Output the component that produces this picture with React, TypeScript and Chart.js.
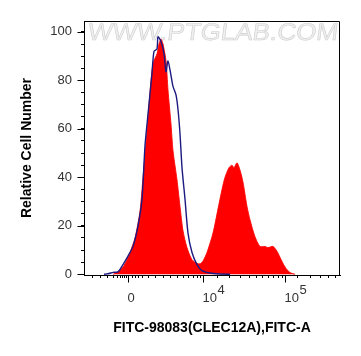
import React, { useEffect, useRef } from 'react';
import { Chart, registerables } from 'chart.js';

Chart.register(...registerables);

// Display channel units (0..1024) of the biexponential FITC-A axis
const controlX = [80, 100, 116, 136, 156, 176, 196, 216, 232, 244, 256, 272, 280, 292, 296, 308, 320, 328, 336, 348, 356, 368, 376, 384, 392, 404, 416, 432, 452, 472, 504, 544, 584];
const controlY = [0, 0.3, 0.8, 1, 4, 7.5, 11.5, 20, 31, 53, 66, 83, 92, 93, 98, 96, 91, 83.5, 88, 82, 77.5, 74, 68, 58, 44, 31, 17, 9, 4, 1.5, 0.5, 0.1, 0];

const sampleX = [116, 136, 156, 172, 184, 204, 224, 236, 252, 264, 276, 292, 300, 308, 316, 328, 336, 348, 356, 372, 384, 396, 412, 432, 452, 464, 476, 492, 516, 536, 552, 564, 580, 592, 600, 612, 624, 636, 652, 664, 684, 704, 724, 736, 756, 772, 784, 804, 824, 844];
const sampleY = [0, 1, 3, 6, 9, 15, 26, 40, 59, 75, 87, 91, 95, 97, 95, 88, 76, 62, 51, 39, 28, 18, 11, 6, 4.5, 4.3, 5.5, 9, 17, 27, 35, 40, 44, 45, 44, 46, 43, 38, 28, 22.5, 15.5, 11.5, 11.5, 11, 11.5, 9.5, 7, 3, 0.7, 0];

const yMajorTicks = [0, 20, 40, 60, 80, 100];
const yMinorTicks = [5, 10, 15, 25, 30, 35, 45, 50, 55, 65, 70, 75, 85, 90, 95];

const xMajorTicks = [176, 476, 804];
const xMajorBase = ['0', '10', '10'];
const xMajorSup = ['', '4', '5'];
const xMinorTicks = [32, 64, 92, 116, 132, 144, 152, 160, 168, 192, 204, 216, 232, 256, 284, 316, 344, 372, 396, 416, 436, 452, 464, 532, 580, 624, 660, 688, 712, 736, 756, 776, 792, 852, 904, 944, 976, 1004];

const xTitle = 'FITC-98083(CLEC12A),FITC-A';
const yTitle = 'Relative Cell Number';
const watermark = 'WWW.PTGLAB.COM';

const FONT = "Arial, 'Liberation Sans', sans-serif";

const customPlugin = {
  id: 'flowAxes',
  beforeDatasetsDraw(chart: any) {
    const { ctx, chartArea } = chart;
    ctx.save();
    ctx.font = `24px ${FONT}`;
    const w = ctx.measureText(watermark).width;
    const target = 250;
    ctx.translate(chartArea.left + 4, chartArea.top + 12);
    ctx.scale(target / w, 1);
    ctx.transform(1, 0, -0.12, 1, 0, 0);
    ctx.textBaseline = 'middle';
    ctx.textAlign = 'left';
    ctx.fillStyle = '#f0f0f0';
    ctx.fillText(watermark, 0, 0);
    ctx.strokeStyle = '#cfcfcf';
    ctx.lineWidth = 0.6;
    ctx.strokeText(watermark, 0, 0);
    ctx.restore();
  },
  afterDraw(chart: any) {
    const { ctx, chartArea } = chart;
    const xs = chart.scales.x;
    const ys = chart.scales.y;
    const L = Math.round(chartArea.left) + 0.5;
    const R = Math.round(chartArea.right) - 0.5;
    const T = Math.round(chartArea.top) + 0.5;
    const B = Math.round(chartArea.bottom) + 0.5;
    ctx.save();
    ctx.strokeStyle = '#000';
    ctx.lineWidth = 1;
    ctx.beginPath();
    ctx.moveTo(L, T);
    ctx.lineTo(R, T);
    ctx.lineTo(R, B);
    for (const v of yMajorTicks) {
      const y = Math.round(ys.getPixelForValue(v)) + 0.5;
      ctx.moveTo(L - 7, y);
      ctx.lineTo(L, y);
    }
    for (const v of xMajorTicks) {
      const x = Math.round(xs.getPixelForValue(v)) + 0.5;
      ctx.moveTo(x, B);
      ctx.lineTo(x, B + 7);
    }
    ctx.stroke();

    ctx.font = `13px ${FONT}`;
    ctx.fillStyle = '#333';
    ctx.textBaseline = 'middle';
    ctx.textAlign = 'left';
    xMajorTicks.forEach((v, i) => {
      const x = xs.getPixelForValue(v);
      const base = xMajorBase[i];
      const sup = xMajorSup[i];
      const bx = sup ? x - 0.5 : x - ctx.measureText(base).width / 2 + 3;
      ctx.fillText(base, bx, chartArea.bottom + 23);
      if (sup) {
        ctx.fillText(sup, bx + ctx.measureText(base).width + 0.5, chartArea.bottom + 15);
      }
    });
    ctx.restore();
  },
};

export default function App() {
  const ref = useRef<HTMLCanvasElement | null>(null);
  useEffect(() => {
    if (!ref.current) return;
    const chart = new Chart(ref.current, {
      type: 'line',
      data: {
        datasets: [
          {
            label: 'Control',
            data: controlX.map((x, i) => ({ x, y: controlY[i] })),
            borderColor: '#1c1a80',
            borderWidth: 1.4,
            backgroundColor: 'transparent',
            fill: false,
            pointRadius: 0,
            tension: 0.25,
          },
          {
            label: 'CLEC12A',
            data: sampleX.map((x, i) => ({ x, y: sampleY[i] })),
            borderColor: 'rgba(255,0,0,0.85)',
            borderWidth: 1,
            backgroundColor: 'rgb(255,0,0)',
            fill: 'origin',
            pointRadius: 0,
            tension: 0.25,
          },
        ],
      },
      options: {
        animation: false,
        responsive: false,
        devicePixelRatio: 1,
        layout: { padding: { left: 0, right: 21, top: 21, bottom: 0 } },
        plugins: { legend: { display: false }, tooltip: { enabled: false } },
        scales: {
          x: {
            type: 'linear',
            min: 0,
            max: 1024,
            afterBuildTicks: (scale: any) => {
              scale.ticks = [...xMinorTicks, ...xMajorTicks].sort((a, b) => a - b).map((v) => ({ value: v }));
            },
            afterFit: (scale: any) => {
              scale.height = 81;
            },
            ticks: { display: false },
            grid: { drawOnChartArea: false, tickLength: 3, tickColor: '#000', tickWidth: 1 },
            border: { display: true, color: '#000', width: 1 },
            title: {
              display: true,
              text: xTitle,
              color: '#000',
              font: { family: FONT, size: 14, weight: 'bold' },
              padding: { top: 0, bottom: 19.6 },
            },
          },
          y: {
            type: 'linear',
            min: -0.3,
            max: 104.5,
            afterBuildTicks: (scale: any) => {
              scale.ticks = [...yMajorTicks, ...yMinorTicks].sort((a, b) => a - b).map((v) => ({ value: v }));
            },
            afterFit: (scale: any) => {
              scale.width = 84;
            },
            ticks: {
              autoSkip: false,
              padding: 9,
              color: '#333',
              font: { family: FONT, size: 13 },
              callback: (value: any) => (yMajorTicks.includes(Number(value)) ? String(value) : ''),
            },
            grid: { drawOnChartArea: false, tickLength: 3, tickColor: '#000', tickWidth: 1 },
            border: { display: true, color: '#000', width: 1 },
            title: {
              display: true,
              text: yTitle,
              color: '#000',
              font: { family: FONT, size: 14, weight: 'bold' },
              padding: { top: 19, bottom: 0 },
            },
          },
        },
      },
      plugins: [customPlugin],
    });
    return () => chart.destroy();
  }, []);
  return (
    <div style={{ position: 'fixed', left: 0, top: 0, width: 361, height: 356, background: '#fff' }}>
      <canvas ref={ref} width={361} height={356} style={{ display: 'block' }} />
    </div>
  );
}
